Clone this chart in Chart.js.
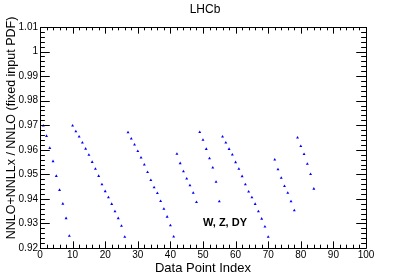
<!DOCTYPE html>
<html>
<head>
<meta charset="utf-8">
<script src="https://cdn.jsdelivr.net/npm/chart.js@4/dist/chart.umd.min.js"></script>
<style>
  html, body { margin: 0; padding: 0; background: #ffffff; }
  #c { display: block; }
</style>
</head>
<body>
<canvas id="c" width="407" height="276"></canvas>
<script>
// ---- data ----
const chartTitle = "LHCb";
const xTitle = "Data Point Index";
const yTitle = "NNLO+NNLLx / NNLO (fixed input PDF)";
const labelText = "W, Z, DY";

const pointIndex = [
  1, 2, 3, 4, 5, 6, 7, 8, 9,
  10, 11, 12, 13, 14, 15, 16, 17, 18, 19, 20, 21, 22, 23, 24, 25, 26,
  27, 28, 29, 30, 31, 32, 33, 34, 35, 36, 37, 38, 39, 40, 41,
  42, 43, 44, 45, 46, 47, 48,
  49, 50, 51, 52, 53, 54, 55,
  56, 57, 58, 59, 60, 61, 62, 63, 64, 65, 66, 67, 68, 69, 70,
  72, 73, 74, 75, 76, 77, 78,
  79, 80, 81, 82, 83, 84
];
const ratio = [
  0.9698, 0.9656, 0.9607, 0.9553, 0.9493, 0.9436, 0.9380, 0.9321, 0.9249,
  0.9698, 0.9675, 0.9653, 0.9629, 0.9604, 0.9579, 0.9550, 0.9522, 0.9493, 0.9459, 0.9431, 0.9406, 0.9379, 0.9349, 0.9321, 0.9290, 0.9245,
  0.9671, 0.9645, 0.9621, 0.9594, 0.9568, 0.9539, 0.9509, 0.9476, 0.9447, 0.9423, 0.9391, 0.9359, 0.9327, 0.9292, 0.9246,
  0.9583, 0.9545, 0.9512, 0.9482, 0.9455, 0.9424, 0.9387,
  0.9672, 0.9640, 0.9603, 0.9565, 0.9527, 0.9469, 0.9390,
  0.9653, 0.9629, 0.9603, 0.9580, 0.9549, 0.9522, 0.9492, 0.9459, 0.9429, 0.9406, 0.9379, 0.9349, 0.9319, 0.9287, 0.9245,
  0.9560, 0.9520, 0.9485, 0.9452, 0.9424, 0.9390, 0.9353,
  0.9649, 0.9615, 0.9582, 0.9542, 0.9501, 0.9441
];
const xMajorTicks = [0, 10, 20, 30, 40, 50, 60, 70, 80, 90, 100];
const yMajorTicks = [0.92, 0.93, 0.94, 0.95, 0.96, 0.97, 0.98, 0.99, 1.00, 1.01];
const yTickLabels = ["0.92", "0.93", "0.94", "0.95", "0.96", "0.97", "0.98", "0.99", "1", "1.01"];

const FONT = "'Liberation Sans', Arial, Helvetica, sans-serif";

// ROOT-style frame with inward ticks on all four sides, plus text
const rootFrame = {
  id: 'rootFrame',
  afterDraw(chart) {
    const ctx = chart.ctx;
    const a = chart.chartArea;
    const xs = chart.scales.x, ys = chart.scales.y;
    ctx.save();
    ctx.strokeStyle = '#000';
    ctx.lineWidth = 1;
    ctx.beginPath();
    ctx.rect(Math.round(a.left) + 0.5, Math.round(a.top) + 0.5,
             Math.round(a.right - a.left), Math.round(a.bottom - a.top));
    ctx.stroke();

    const h = a.bottom - a.top, w = a.right - a.left;
    const xMaj = 0.03 * h, yMaj = 0.03 * w;
    ctx.beginPath();
    for (let i = 0; i < xMajorTicks.length; i++) {
      const v = xMajorTicks[i];
      const px = Math.round(xs.getPixelForValue(v)) + 0.5;
      ctx.moveTo(px, a.bottom); ctx.lineTo(px, a.bottom - xMaj);
      ctx.moveTo(px, a.top); ctx.lineTo(px, a.top + xMaj);
      if (i < xMajorTicks.length - 1) {
        const step = (xMajorTicks[i + 1] - v) / 5;
        for (let k = 1; k < 5; k++) {
          const mx = Math.round(xs.getPixelForValue(v + k * step)) + 0.5;
          ctx.moveTo(mx, a.bottom); ctx.lineTo(mx, a.bottom - xMaj / 2);
          ctx.moveTo(mx, a.top); ctx.lineTo(mx, a.top + xMaj / 2);
        }
      }
    }
    for (let i = 0; i < yMajorTicks.length; i++) {
      const v = yMajorTicks[i];
      const py = Math.round(ys.getPixelForValue(v)) + 0.5;
      ctx.moveTo(a.left, py); ctx.lineTo(a.left + yMaj, py);
      ctx.moveTo(a.right, py); ctx.lineTo(a.right - yMaj, py);
      if (i < yMajorTicks.length - 1) {
        const step = (yMajorTicks[i + 1] - v) / 5;
        for (let k = 1; k < 5; k++) {
          const my = Math.round(ys.getPixelForValue(v + k * step)) + 0.5;
          ctx.moveTo(a.left, my); ctx.lineTo(a.left + yMaj / 2, my);
          ctx.moveTo(a.right, my); ctx.lineTo(a.right - yMaj / 2, my);
        }
      }
    }
    ctx.stroke();

    ctx.fillStyle = '#000';
    ctx.textAlign = 'center';
    ctx.textBaseline = 'middle';
    ctx.font = "12px " + FONT;
    ctx.fillText(chartTitle, 205, 10);

    ctx.save();
    ctx.translate(12, 128);
    ctx.rotate(-Math.PI / 2);
    ctx.font = "12.5px " + FONT;
    ctx.fillText(yTitle, 0, 0);
    ctx.restore();

    ctx.font = "bold 11px " + FONT;
    ctx.textAlign = 'left';
    ctx.fillText(labelText, 203, 223);
    ctx.restore();
  }
};

new Chart(document.getElementById('c'), {
  type: 'scatter',
  data: {
    datasets: [{
      data: pointIndex.map((x, i) => ({ x: x, y: ratio[i] })),
      pointStyle: 'triangle',
      radius: 1.7,
      hoverRadius: 1.7,
      borderWidth: 0,
      backgroundColor: '#0000ff',
      borderColor: '#0000ff'
    }]
  },
  options: {
    responsive: false,
    animation: false,
    devicePixelRatio: 1,
    layout: { padding: { top: 27, right: 41, left: 0, bottom: 0 } },
    plugins: { legend: { display: false }, tooltip: { enabled: false }, title: { display: false } },
    scales: {
      x: {
        type: 'linear', min: 0, max: 100,
        afterBuildTicks: s => { s.ticks = xMajorTicks.map(v => ({ value: v })); },
        afterFit: s => { s.height = 28; },
        grid: { display: false, drawTicks: false },
        border: { display: false },
        ticks: { color: '#000', font: { family: FONT, size: 10 }, padding: 1, maxRotation: 0, autoSkip: false },
        title: { display: true, text: xTitle, color: '#000', font: { family: FONT, size: 13 }, padding: 0 }
      },
      y: {
        type: 'linear', min: 0.92, max: 1.01,
        afterBuildTicks: s => { s.ticks = yMajorTicks.map(v => ({ value: v })); },
        afterFit: s => { s.width = 40; },
        grid: { display: false, drawTicks: false },
        border: { display: false },
        ticks: {
          color: '#000', font: { family: FONT, size: 10 }, padding: 2, autoSkip: false,
          callback: (v, i) => yTickLabels[i]
        }
      }
    }
  },
  plugins: [rootFrame]
});
</script>
</body>
</html>
